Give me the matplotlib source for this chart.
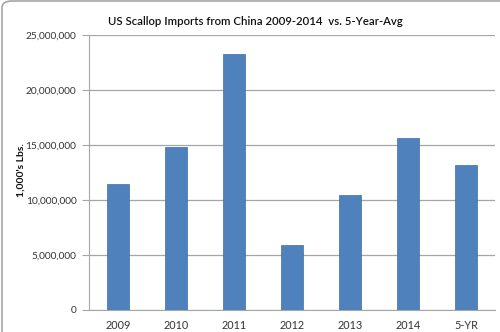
import matplotlib
matplotlib.use('Agg')
import matplotlib.pyplot as plt
from matplotlib.ticker import FuncFormatter
from matplotlib.patches import FancyBboxPatch

# Datos
categorias = ['2009', '2010', '2011', '2012', '2013', '2014', '5-YR']
libras = [11450000, 14800000, 23250000, 5900000, 10450000, 15600000, 13200000]

plt.rcParams['font.family'] = ['Lato', 'DejaVu Sans']

fig = plt.figure(figsize=(5, 3.32), dpi=100)
ax = fig.add_axes([0.178, 0.0663, 0.812, 0.8283])

# Borde del area del grafico
borde = FancyBboxPatch((0.004, -0.1), 1.05, 1.097, boxstyle='round,pad=0,rounding_size=0.02',
                       transform=fig.transFigure, fill=False, edgecolor='#a6a6a6', linewidth=1.2)
fig.patches.append(borde)

ax.bar(categorias, libras, width=0.38, color='#4f81bd', edgecolor='#3f6fa6', linewidth=0.5, zorder=3)

ax.set_ylim(0, 25000000)
ax.set_xlim(-0.5, 6.5)
ax.set_yticks(range(0, 25000001, 5000000))
ax.yaxis.set_major_formatter(FuncFormatter(lambda v, p: '{:,.0f}'.format(v)))
ax.grid(axis='y', color='#a6a6a6', linewidth=0.9, zorder=0)

for lado in ['top', 'right']:
    ax.spines[lado].set_visible(False)
for lado in ['left', 'bottom']:
    ax.spines[lado].set_color('#a6a6a6')

ax.tick_params(axis='y', colors='#a6a6a6', labelcolor='#333333', labelsize=7.3, length=5, direction='out', pad=4)
ax.tick_params(axis='x', length=0, labelcolor='#333333', labelsize=7.8, pad=7)

fig.text(0.042, 0.488, "1,000's Lbs.", rotation=90, ha='center', va='center',
         fontsize=7.5, fontweight='bold', color='#111111')
fig.text(0.51, 0.935, 'US Scallop Imports from China 2009-2014  vs. 5-Year-Avg',
         ha='center', va='center', fontsize=8.2, fontweight='semibold', color='#111111')

fig.savefig('out.png', dpi=100)
